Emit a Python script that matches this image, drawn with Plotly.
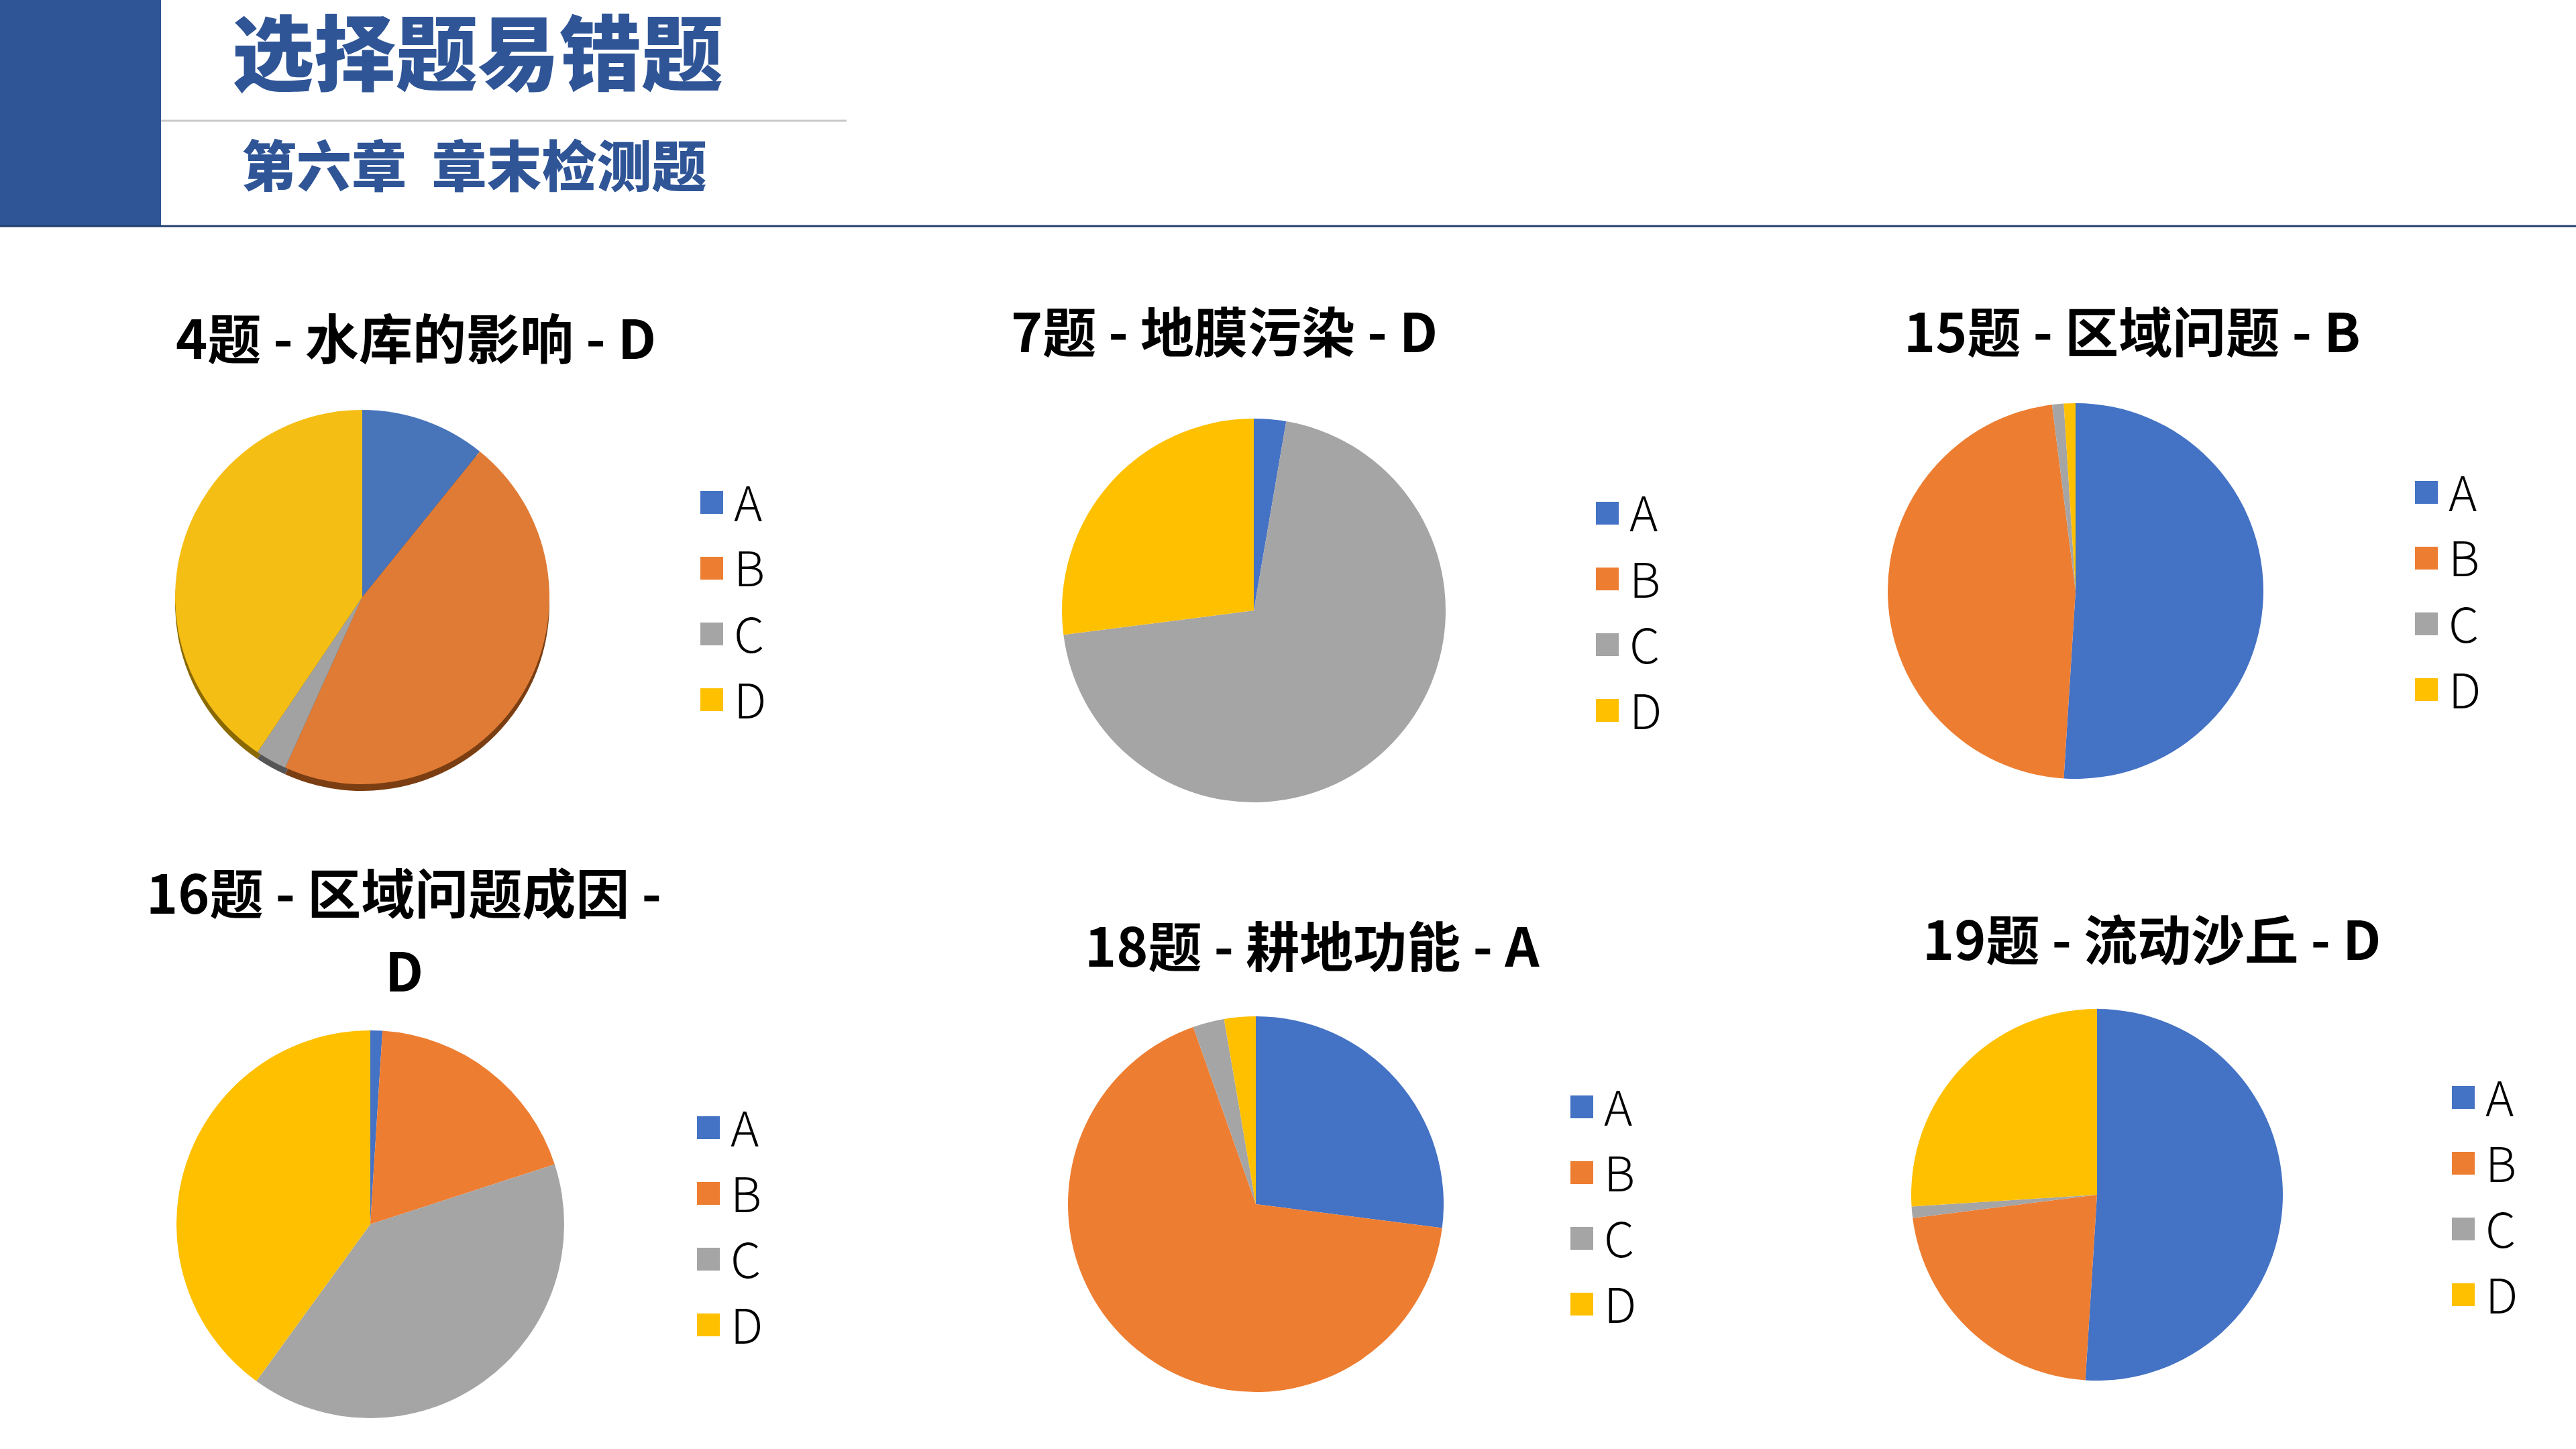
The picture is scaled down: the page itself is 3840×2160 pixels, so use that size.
import plotly.graph_objects as go

W, H = 3840, 2160

# ---------------- data ----------------
options = ["A", "B", "C", "D"]
titles = ["4题 - 水库的影响 - D", "7题 - 地膜污染 - D", "15题 - 区域问题 - B",
          "16题 - 区域问题成因 -<br>D", "18题 - 耕地功能 - A", "19题 - 流动沙丘 - D"]
q4 = [4, 17, 1, 15]
q7 = [1, 0, 26, 10]
q15 = [51, 47, 1, 1]
q16 = [1, 19, 40, 40]
q18 = [10, 25, 1, 1]
q19 = [51, 22, 1, 26]
series = [q4, q7, q15, q16, q18, q19]

header_title = "选择题易错题"
header_sub = "第六章  章末检测题"

# ---------------- styles / layout ----------------
colors = ["#4472C4", "#ED7D31", "#A5A5A5", "#FFC000"]
colors_3d = ["#4874BA", "#E07B35", "#A2A2A2", "#F5BE15"]
colors_shadow = ["#2A4470", "#7A3E12", "#555555", "#8A6A00"]
blue = "#2F5597"

# pixel layout per chart: pie center, radius, title center, legend square left x, legend first row y
cells = [
    dict(cx=540, cy=890, r=279, tx=620, ty=500, lx=1044, ly=749),
    dict(cx=1869, cy=910, r=286, tx=1825, ty=490, lx=2379, ly=765),
    dict(cx=3094, cy=881, r=280, tx=3178, ty=490, lx=3600, ly=734),
    dict(cx=552, cy=1825, r=289, tx=602, ty=1385, lx=1039, ly=1681),
    dict(cx=1872, cy=1795, r=280, tx=1956, ty=1406, lx=2341, ly=1650),
    dict(cx=3126, cy=1781, r=277, tx=3207, ty=1396, lx=3655, ly=1636),
]
TITLE_LINE_GAP = 116
LEG_STEP = 98
SQ = 34


def px(x):
    return x / W


def py(y):
    return 1 - y / H


def domain(c, dy=0):
    return dict(x=[px(c["cx"] - c["r"]), px(c["cx"] + c["r"])],
                y=[py(c["cy"] + c["r"] + dy), py(c["cy"] - c["r"] + dy)])


fig = go.Figure()

for i, (vals, c) in enumerate(zip(series, cells)):
    if i == 0:
        # shadow of the 3-D styled first pie
        fig.add_trace(go.Pie(
            labels=options, values=vals, sort=False, direction="clockwise",
            rotation=0, textinfo="none", hoverinfo="skip", showlegend=False,
            marker=dict(colors=colors_shadow, line=dict(width=0)),
            domain=domain(c, dy=10)))
        cols = colors_3d
    else:
        cols = colors
    fig.add_trace(go.Pie(
        labels=options, values=vals, sort=False, direction="clockwise",
        rotation=0, textinfo="none", showlegend=False, name=titles[i].replace("<br>", ""),
        marker=dict(colors=cols, line=dict(width=0)),
        domain=domain(c)))

shapes = []
annotations = []

# header
shapes.append(dict(type="rect", xref="paper", yref="paper", x0=0, x1=px(240),
                   y0=py(336), y1=1, fillcolor=blue, line=dict(width=0), layer="above"))
shapes.append(dict(type="line", xref="paper", yref="paper", x0=px(240), x1=px(1262),
                   y0=py(180), y1=py(180), line=dict(color="#C9C9C9", width=3)))
shapes.append(dict(type="line", xref="paper", yref="paper", x0=0, x1=1,
                   y0=py(337), y1=py(337), line=dict(color="#22406F", width=3)))
annotations.append(dict(text=header_title, xref="paper", yref="paper",
                        x=px(344), y=py(72), xanchor="left", yanchor="middle",
                        showarrow=False,
                        font=dict(family="Noto Sans CJK SC", size=122, color=blue, weight=900)))
annotations.append(dict(text=header_sub, xref="paper", yref="paper",
                        x=px(358), y=py(242), xanchor="left", yanchor="middle",
                        showarrow=False,
                        font=dict(family="Noto Sans CJK SC", size=82, color=blue, weight=900)))

for i, c in enumerate(cells):
    lines = titles[i].split("<br>")
    n = len(lines)
    for j, line in enumerate(lines):
        yline = c["ty"] + (j - (n - 1) / 2) * TITLE_LINE_GAP
        annotations.append(dict(text=line, xref="paper", yref="paper",
                                x=px(c["tx"]), y=py(yline), xanchor="center", yanchor="middle",
                                showarrow=False,
                                font=dict(family="Noto Sans CJK SC", size=80, color="#000000", weight=700)))
    for k, opt in enumerate(options):
        yc = c["ly"] + k * LEG_STEP
        shapes.append(dict(type="rect", xref="paper", yref="paper",
                           x0=px(c["lx"]), x1=px(c["lx"] + SQ),
                           y0=py(yc + SQ / 2), y1=py(yc - SQ / 2),
                           fillcolor=colors[k], line=dict(width=0)))
        annotations.append(dict(text=opt, xref="paper", yref="paper",
                                x=px(c["lx"] + SQ + 14), y=py(yc - 4),
                                xanchor="left", yanchor="middle", showarrow=False,
                                font=dict(family="Noto Sans CJK SC", size=72, color="#000000", weight=300)))

fig.update_layout(
    width=W, height=H,
    margin=dict(l=0, r=0, t=0, b=0),
    paper_bgcolor="#FFFFFF", plot_bgcolor="#FFFFFF",
    showlegend=False,
    shapes=shapes, annotations=annotations,
)

fig.write_html("out.html", config={"displayModeBar": False},
               post_script="document.body.style.margin='0';")
